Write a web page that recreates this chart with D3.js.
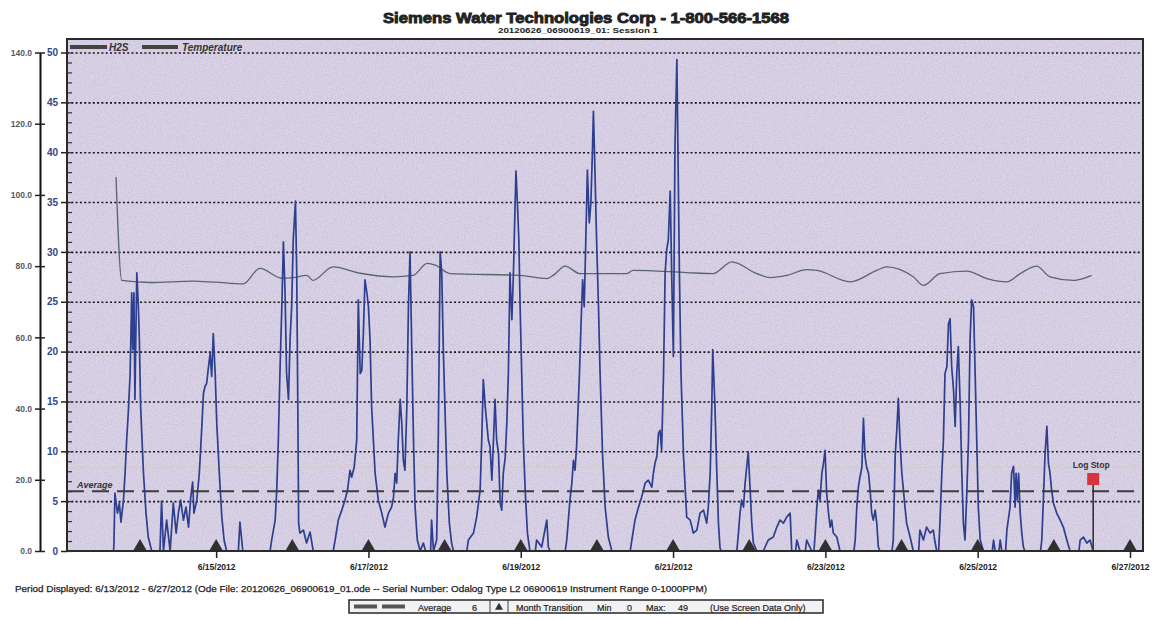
<!DOCTYPE html>
<html>
<head>
<meta charset="utf-8">
<script src="https://cdn.jsdelivr.net/npm/d3@7"></script>
<style>
  body { margin: 0; background: #fff; }
  svg text { font-family: "Liberation Sans", Arial, sans-serif; }
</style>
</head>
<body>
<script>
// H2S readings: [hours since 6/13/2012 00:00, ppm]
var h2sReadings = [
  [15.7,0],[15.8,0.9],[16.1,5.8],[16.9,3.8],[17.5,4.8],[18.0,2.9],[18.8,5.1],[19.3,7.8],[19.8,11.1],[20.3,13.8],[20.9,17.8],[21.4,25.9],[21.7,20.2],[22.1,25.9],[22.4,15.2],[23.0,27.9],[23.5,24.5],[23.8,21.2],[24.2,14.5],[25.1,7.8],[25.9,3.8],[26.6,1.4],[27.7,0],
  [30.3,0],[30.8,5],[31.4,0],[32.4,3.1],[33.5,0],[34.5,4.8],[35.4,1.8],[36.1,3.8],[36.8,5.1],[37.7,3.1],[38.5,4.4],[39.3,2.4],[40.0,5.4],[40.6,6.9],[41.0,3.8],[41.9,5.1],[42.7,7.8],[43.5,12.5],[44.0,15.8],[44.5,16.5],[45.0,16.8],[45.6,18.5],[46.1,19.8],[46.6,17.5],[47.1,21.8],[47.7,17.8],[48.2,12.8],[49.0,7.8],[49.8,3.4],[50.5,1.1],[51.3,0],
  [55.0,0],[55.5,2.9],[56.4,0],
  [65.0,0],[65.5,1.1],[66.6,3.1],[67.1,6.1],[67.6,11.1],[68.1,17.8],[68.7,24.5],[69.2,31.0],[69.7,26.2],[70.2,17.8],[70.8,15.2],[71.3,21.2],[71.8,24.5],[72.3,31.2],[73.0,35.1],[73.4,27.8],[73.7,16.2],[74.0,2.8],[74.4,1.8],[75.5,2.1],[76.5,0.8],[77.6,1.9],[78.6,0],
  [84.9,0],[85.5,1.1],[86.5,3.1],[87.6,4.1],[88.6,5.1],[89.4,6.1],[90.2,8.1],[90.7,7.4],[91.5,8.4],[92.3,11.1],[92.8,25.2],[93.4,17.8],[93.9,18.1],[94.4,21.8],[94.9,27.2],[95.5,25.9],[96.0,24.5],[96.5,21.2],[97.0,14.5],[98.1,7.8],[99.1,5.1],[100.2,3.8],[101.2,2.4],[102.3,3.8],[103.3,4.4],[103.9,5.4],[104.4,7.8],[104.9,6.8],[105.4,11.1],[106.0,15.2],[106.5,12.8],[107.0,9.1],[107.5,8.1],[108.1,14.5],[108.6,24.5],[109.1,30.0],[109.6,21.2],[110.2,11.1],[110.7,4.4],[111.4,1.1],[112.3,0],
  [113.3,0.8],[114.0,0],[115.6,0],[115.9,3.1],[116.5,0],[117.5,1.1],[118.0,11.1],[118.6,30.0],[119.1,27.9],[119.6,20.2],[120.1,14.5],[120.7,7.8],[121.5,2.8],[122.2,0.8],[122.8,0],
  [127.0,0],[127.5,1.1],[129.1,1.8],[130.1,3.4],[131.2,6.1],[131.7,11.1],[132.2,17.2],[132.8,14.5],[133.3,12.8],[133.8,11.1],[134.3,10.5],[134.9,7.1],[135.4,11.1],[135.9,15.2],[136.4,11.1],[137.0,9.8],[137.5,4.8],[138.0,4.1],[138.5,7.8],[139.1,9.4],[139.6,12.8],[140.1,17.8],[140.6,27.9],[141.2,23.2],[141.7,27.9],[142.2,34.6],[142.5,38.1],[142.9,35.2],[143.4,31.2],[143.8,24.5],[144.3,17.8],[144.8,11.1],[145.4,6.1],[146.1,1.8],[146.9,0],
  [148.6,0],[149.0,1.1],[150.6,0.4],[152.2,3.1],[152.7,0.4],[153.2,0],
  [158.0,0],[158.5,1.1],[159.5,5.1],[160.1,6.8],[160.6,9.1],[161.1,8.1],[161.6,10.5],[162.5,17.8],[163.0,22.8],[163.5,27.2],[164.0,24.5],[164.5,31.2],[165.0,38.2],[165.6,32.9],[166.1,34.9],[166.6,40.2],[166.9,44.1],[167.4,37.9],[167.9,31.2],[168.5,24.5],[169.0,17.8],[169.8,9.5],[170.6,4.4],[171.6,1.4],[172.7,0],
  [178.5,0],[179.0,1.1],[180.0,3.1],[181.1,4.4],[182.1,5.4],[183.2,6.8],[184.2,7.1],[185.3,6.4],[185.8,7.8],[186.3,8.8],[186.9,9.5],[187.4,11.8],[187.9,12.1],[188.4,10.1],[189.0,17.8],[189.5,27.9],[190.0,30.2],[190.5,31.2],[191.1,36.1],[191.6,27.2],[192.1,19.5],[192.6,40.6],[193.2,49.3],[193.5,41.2],[194.0,27.9],[194.5,17.8],[195.3,9.5],[196.3,3.4],[197.4,3.1],[198.4,1.8],[199.5,2.1],[200.5,3.8],[201.6,4.1],[202.6,2.8],[203.1,4.4],[203.7,7.8],[204.2,14.5],[204.5,20.2],[205.2,14.5],[205.8,7.8],[206.3,2.8],[206.8,0.3],[207.2,0],
  [212.1,0],[212.6,1.8],[213.1,3.8],[213.6,5.1],[214.2,4.4],[214.7,6.8],[215.2,8.4],[215.7,9.9],[216.3,6.1],[216.8,2.8],[217.3,0.8],[218.4,0],
  [220.5,0],[221.0,0.4],[222.0,1.1],[223.6,1.4],[224.7,2.4],[225.7,3.1],[226.8,2.8],[227.8,3.4],[228.9,3.8],[229.4,0],
  [230.6,0],[231.0,1.1],[232.0,0],[233.7,0],[234.1,1.1],[235.7,0],
  [236.4,0],[236.8,1.8],[237.3,4.4],[237.8,6.1],[238.3,5.1],[238.9,7.8],[239.4,8.8],[239.9,10.1],[240.4,5.8],[241.0,3.8],[241.5,2.4],[242.0,3.1],[242.5,1.8],[243.6,1.4],[244.6,0],
  [249.0,0],[249.4,1.1],[249.9,4.4],[250.4,6.4],[250.9,7.4],[251.5,8.4],[252.0,13.3],[252.5,9.5],[253.0,8.4],[253.6,7.8],[254.1,6.1],[254.6,3.8],[255.1,3.1],[255.7,4.1],[256.2,2.8],[256.7,0.4],[257.2,0],
  [261.0,0],[261.4,1.1],[262.0,9.5],[262.5,12.1],[263.0,15.3],[263.5,11.1],[264.1,7.8],[264.6,6.1],[265.1,4.4],[265.6,2.8],[266.7,1.4],[267.7,0],
  [269.4,0],[269.8,2.1],[270.9,1.1],[271.9,2.4],[273.0,1.8],[274.0,2.1],[274.6,0.8],[275.1,0],
  [275.7,0],[276.1,2.8],[276.7,7.8],[277.2,11.1],[277.7,17.8],[278.3,18.5],[278.8,22.8],[279.3,23.3],[279.8,18.5],[280.4,16.1],[280.9,12.5],[281.4,17.8],[281.9,20.5],[282.5,14.5],[283.0,7.8],[283.5,2.8],[284.0,1.1],[284.6,6.1],[285.1,11.1],[285.6,21.2],[286.1,25.2],[286.7,24.5],[287.2,17.8],[287.7,11.1],[288.2,4.4],[288.8,1.1],[289.8,0],
  [292.6,0],[293.0,1.1],[293.5,0],[294.7,0],[295.1,1.1],[295.6,0],[296.8,0],[297.2,2.1],[298.2,4.4],[298.7,7.8],[299.3,8.5],[299.8,4.4],[300.1,7.8],[300.5,5.1],[300.9,7.8],[301.4,3.8],[301.9,1.8],[302.4,0.4],[302.9,0],
  [307.8,0],[308.2,1.1],[308.7,5.1],[309.2,9.5],[309.8,12.5],[310.3,8.8],[310.8,7.8],[311.3,6.1],[311.9,4.8],[312.9,3.8],[314.0,3.1],[315.0,2.4],[315.5,1.8],[316.1,1.1],[317.1,0],
  [319.9,0],[320.3,1.1],[321.3,1.4],[322.4,0.8],[323.4,1.1],[324.4,0]
];

// Temperature readings: [hours since 6/13/2012 00:00, degrees]
var tempReadings = [
  [16.45,105.0],[18.25,76.0],[27.2,75.4],[40.7,75.8],[47.7,75.5],[56.5,75.0],[61.8,79.4],[68.7,76.6],[72.2,76.8],[76.6,77.4],[78.5,76.0],[84.8,79.8],[93.4,78.0],[103.8,77.0],[110.1,77.4],[114.5,80.8],[117.3,80.2],[121.7,77.9],[143.8,77.4],[152.2,76.5],[154.2,77.4],[158.0,80.0],[162.7,77.9],[177.4,77.9],[179.4,78.8],[196.3,78.2],[204.6,77.9],[210.5,81.2],[218.4,77.9],[222.6,76.8],[227.8,77.4],[234.1,79.0],[237.3,78.8],[247.8,75.6],[256.2,78.8],[259.3,79.8],[267.7,77.0],[270.9,74.6],[276.1,77.9],[284.6,78.6],[290.9,76.5],[297.2,75.6],[301.4,77.9],[306.6,80.0],[310.8,77.0],[318.2,76.0],[321.2,76.5],[323.9,77.4]
];

var h2sTicks = [0, 5, 10, 15, 20, 25, 30, 35, 40, 45, 50];
var tempTicks = [0, 20, 40, 60, 80, 100, 120, 140];
var seriesNames = ["H2S", "Temperature"];
var averageValue = 6, minValue = 0, maxValue = 49;
var alarmLevel = 8.4;
var logStopHour = 324.4;

// Layout
var width = 1158, height = 620;
var plot = {left: 67, right: 1143, top: 39, bottom: 551, yTop: 52.5};

var start = new Date(2012, 5, 13);
function hoursToDate(h) { return new Date(start.getTime() + h * 3600e3); }

var x = d3.scaleTime()
  .domain([hoursToDate(1), hoursToDate(340.1)])
  .range([plot.left, plot.right]);
var y = d3.scaleLinear().domain([0, 50]).range([plot.bottom, plot.yTop]);
var yTemp = d3.scaleLinear().domain([0, 140]).range([plot.bottom, plot.yTop]);

var svg = d3.select("body").append("svg")
  .attr("width", width)
  .attr("height", height);

// Paper grain for the plot background, kept inside the plot box
var defs = svg.append("defs");
var grain = defs.append("filter").attr("id", "grain")
  .attr("x", 0).attr("y", 0).attr("width", 1).attr("height", 1);
grain.append("feTurbulence").attr("type", "fractalNoise").attr("baseFrequency", 0.9).attr("numOctaves", 2).attr("seed", 4);
grain.append("feColorMatrix").attr("type", "matrix")
  .attr("values", "0 0 0 0 0.5  0 0 0 0 0.45  0 0 0 0 0.65  0 0 0 1.6 -0.6");
defs.append("clipPath").attr("id", "plotclip").append("rect")
  .attr("x", plot.left).attr("y", plot.top)
  .attr("width", plot.right - plot.left).attr("height", plot.bottom - plot.top);

// Plot background
svg.append("rect")
  .attr("x", plot.left).attr("y", plot.top)
  .attr("width", plot.right - plot.left).attr("height", plot.bottom - plot.top)
  .attr("fill", "#dbd4e6");
svg.append("rect")
  .attr("x", plot.left).attr("y", plot.top)
  .attr("width", plot.right - plot.left).attr("height", plot.bottom - plot.top)
  .attr("filter", "url(#grain)")
  .attr("clip-path", "url(#plotclip)")
  .attr("opacity", 0.8);

// Title
svg.append("text")
  .attr("x", 586).attr("y", 23)
  .attr("text-anchor", "middle")
  .attr("font-size", 15).attr("font-weight", "bold")
  .attr("stroke", "#222").attr("stroke-width", 0.9)
  .attr("textLength", 406).attr("lengthAdjust", "spacingAndGlyphs")
  .attr("fill", "#222")
  .text("Siemens Water Technologies Corp - 1-800-566-1568");
svg.append("text")
  .attr("x", 578).attr("y", 32.5)
  .attr("text-anchor", "middle")
  .attr("font-size", 7.5).attr("font-weight", "bold")
  .attr("textLength", 160).attr("lengthAdjust", "spacingAndGlyphs")
  .attr("fill", "#222")
  .text("20120626_06900619_01: Session 1");

// Dotted gridlines
var grid = svg.append("g")
  .attr("transform", "translate(" + plot.left + ",0)")
  .call(d3.axisRight(y).tickValues(h2sTicks.slice(1)).tickSize(plot.right - plot.left).tickFormat(""));
grid.select(".domain").remove();
grid.selectAll("line")
  .attr("stroke", "#151515").attr("stroke-width", 1.6).attr("stroke-dasharray", "2,2.3");

// Alarm level (faint)
svg.append("line")
  .attr("x1", plot.left).attr("x2", plot.right)
  .attr("y1", y(alarmLevel)).attr("y2", y(alarmLevel))
  .attr("stroke", "#e2cf7a").attr("stroke-width", 1).attr("opacity", 0.7);

// Temperature line
var tempLine = d3.line()
  .x(function(d) { return x(hoursToDate(d[0])); })
  .y(function(d) { return yTemp(d[1]); })
  .curve(d3.curveMonotoneX);
svg.append("path")
  .datum(tempReadings)
  .attr("d", tempLine)
  .attr("fill", "none")
  .attr("stroke", "#56666c")
  .attr("stroke-width", 1.3);

// H2S line
var h2sLine = d3.line()
  .x(function(d) { return x(hoursToDate(d[0])); })
  .y(function(d) { return y(d[1]); });
svg.append("path")
  .datum(h2sReadings)
  .attr("clip-path", "url(#plotclip)")
  .attr("d", h2sLine)
  .attr("fill", "none")
  .attr("stroke", "#2d3f8e")
  .attr("stroke-width", 1.7)
  .attr("stroke-linejoin", "round");

// Average line
svg.append("line")
  .attr("x1", plot.left).attr("x2", plot.right)
  .attr("y1", y(averageValue)).attr("y2", y(averageValue))
  .attr("stroke", "#3c3c3c").attr("stroke-width", 2)
  .attr("stroke-dasharray", "17,8");
svg.append("text")
  .attr("x", 77).attr("y", y(averageValue) - 3)
  .attr("font-size", 9).attr("font-weight", "bold").attr("font-style", "italic")
  .attr("fill", "#333")
  .text("Average");

// Day markers
var days = d3.timeDay.range(hoursToDate(24), hoursToDate(340.1));
svg.selectAll(".daymark")
  .data(days)
  .enter().append("path")
  .attr("class", "daymark")
  .attr("d", d3.symbol().type(d3.symbolTriangle).size(85))
  .attr("transform", function(d) { return "translate(" + x(d) + "," + (plot.bottom - 4) + ")"; })
  .attr("fill", "#303030");

// Log stop marker
var stopX = x(hoursToDate(logStopHour));
svg.append("line")
  .attr("x1", stopX).attr("x2", stopX)
  .attr("y1", 485).attr("y2", plot.bottom)
  .attr("stroke", "#333").attr("stroke-width", 1.6);
svg.append("rect")
  .attr("x", stopX - 6).attr("y", 473)
  .attr("width", 12).attr("height", 12)
  .attr("fill", "#d8343e");
svg.append("text")
  .attr("x", stopX - 2).attr("y", 468)
  .attr("text-anchor", "middle")
  .attr("font-size", 8.5).attr("font-weight", "bold")
  .attr("fill", "#333")
  .text("Log Stop");

// Plot frame
svg.append("rect")
  .attr("x", plot.left).attr("y", plot.top)
  .attr("width", plot.right - plot.left).attr("height", plot.bottom - plot.top)
  .attr("fill", "none")
  .attr("stroke", "#2a2a2a").attr("stroke-width", 2);

// Legend
var legend = svg.append("g").attr("transform", "translate(0,47)");
legend.append("line").attr("x1", 70).attr("x2", 107).attr("y1", 0).attr("y2", 0)
  .attr("stroke", "#444").attr("stroke-width", 4);
legend.append("text").attr("x", 109).attr("y", 3.5)
  .attr("font-size", 10).attr("font-weight", "bold").attr("font-style", "italic").attr("fill", "#333")
  .text(seriesNames[0]);
legend.append("line").attr("x1", 142).attr("x2", 178).attr("y1", 0).attr("y2", 0)
  .attr("stroke", "#444").attr("stroke-width", 4);
legend.append("text").attr("x", 182).attr("y", 3.5)
  .attr("font-size", 10).attr("font-weight", "bold").attr("font-style", "italic").attr("fill", "#333")
  .text(seriesNames[1]);

// H2S axis (inner left)
var h2sAxis = svg.append("g")
  .attr("transform", "translate(" + plot.left + ",0)")
  .call(d3.axisLeft(y).tickValues(h2sTicks).tickSize(6).tickSizeOuter(0).tickFormat(d3.format("d")));
h2sAxis.select(".domain").remove();
h2sAxis.selectAll("line").attr("stroke", "#222").attr("stroke-width", 1.5);
h2sAxis.selectAll("text")
  .attr("font-size", 10).attr("font-weight", "bold").attr("fill", "#34468c");

var minorAxis = svg.append("g")
  .attr("transform", "translate(" + plot.left + ",0)")
  .call(d3.axisRight(y).ticks(50).tickSize(5).tickFormat(""));
minorAxis.select(".domain").remove();
minorAxis.selectAll("line").attr("stroke", "#333").attr("stroke-width", 1.2);

// Temperature axis (outer left)
var tempAxis = svg.append("g")
  .attr("transform", "translate(40,0)")
  .call(d3.axisLeft(yTemp).tickValues(tempTicks).tickSize(5).tickSizeOuter(0).tickFormat(d3.format(".1f")));
tempAxis.select(".domain").attr("stroke", "#111").attr("stroke-width", 2);
tempAxis.selectAll("line").attr("stroke", "#222").attr("stroke-width", 1.5);
tempAxis.selectAll("text")
  .attr("font-size", 8.5).attr("font-weight", "bold").attr("fill", "#4e5b66");
var tempAxisRight = svg.append("g")
  .attr("transform", "translate(40,0)")
  .call(d3.axisRight(yTemp).tickValues(tempTicks).tickSize(5).tickSizeOuter(0).tickFormat(""));
tempAxisRight.select(".domain").remove();
tempAxisRight.selectAll("line").attr("stroke", "#222").attr("stroke-width", 1.5);

// Time axis
var dateTicks = d3.timeDay.every(2).range(new Date(2012, 5, 15), hoursToDate(340.1));
var xAxis = svg.append("g")
  .attr("transform", "translate(0," + plot.bottom + ")")
  .call(d3.axisBottom(x).tickValues(dateTicks).tickSize(7).tickSizeOuter(0).tickFormat(d3.timeFormat("%-m/%d/%Y")));
xAxis.select(".domain").remove();
xAxis.selectAll("line").attr("stroke", "#222").attr("stroke-width", 1.5);
xAxis.selectAll("text")
  .attr("dy", "1.1em")
  .attr("font-size", 8.5).attr("font-weight", "bold").attr("fill", "#222");

// Footer
svg.append("text")
  .attr("x", 15).attr("y", 592)
  .attr("font-size", 9.5)
  .attr("stroke", "#222").attr("stroke-width", 0.25)
  .attr("textLength", 692).attr("lengthAdjust", "spacingAndGlyphs")
  .attr("fill", "#222")
  .text("Period Displayed: 6/13/2012 - 6/27/2012  (Ode File: 20120626_06900619_01.ode  --  Serial Number: Odalog Type L2 06900619 Instrument Range 0-1000PPM)");

var box = svg.append("g");
box.append("rect")
  .attr("x", 349).attr("y", 600).attr("width", 474).attr("height", 13)
  .attr("fill", "#f2f2f4").attr("stroke", "#333").attr("stroke-width", 1.6);
box.append("line").attr("x1", 354).attr("x2", 405).attr("y1", 606.5).attr("y2", 606.5)
  .attr("stroke", "#555").attr("stroke-width", 4).attr("stroke-dasharray", "23,5");
box.append("line").attr("x1", 490).attr("x2", 490).attr("y1", 600).attr("y2", 613).attr("stroke", "#444");
box.append("path")
  .attr("d", d3.symbol().type(d3.symbolTriangle).size(28))
  .attr("transform", "translate(499,607.5)")
  .attr("fill", "#333");
box.append("line").attr("x1", 508).attr("x2", 508).attr("y1", 600).attr("y2", 613).attr("stroke", "#444");
var boxLabels = [
  [418, "Average"], [472, String(averageValue)], [516, "Month Transition"],
  [597, "Min"], [627, String(minValue)], [646, "Max:"], [678, String(maxValue)],
  [710, "(Use Screen Data Only)"]
];
box.selectAll(".boxlabel")
  .data(boxLabels)
  .enter().append("text")
  .attr("class", "boxlabel")
  .attr("x", function(d) { return d[0]; })
  .attr("y", 610.5)
  .attr("font-size", 9)
  .attr("stroke", "#222").attr("stroke-width", 0.2)
  .attr("fill", "#222")
  .text(function(d) { return d[1]; });
</script>
</body>
</html>
